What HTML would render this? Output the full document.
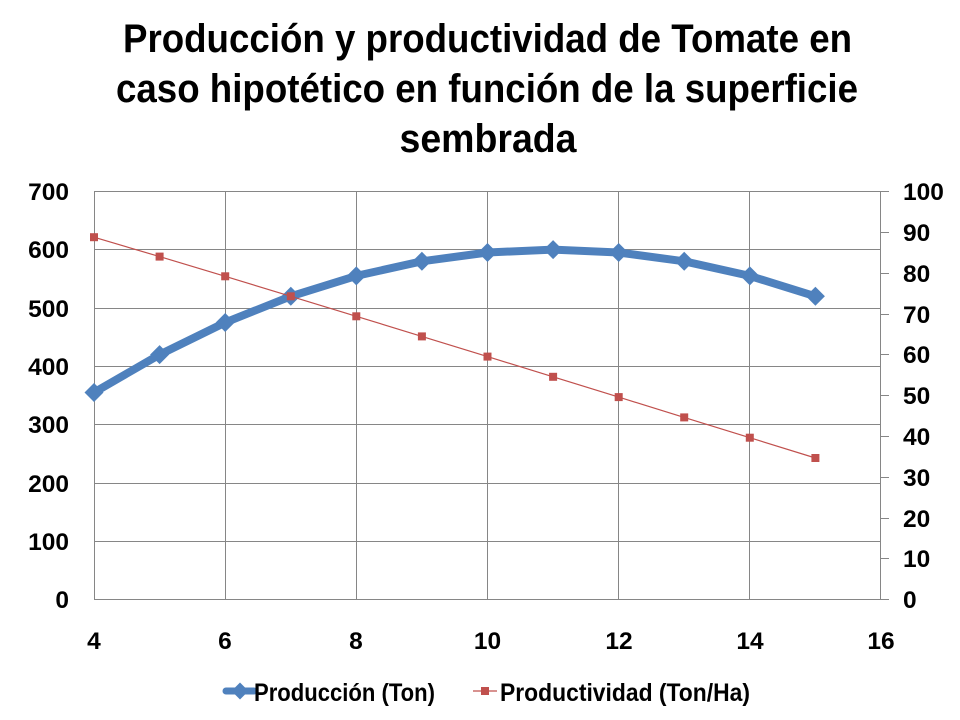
<!DOCTYPE html>
<html>
<head>
<meta charset="utf-8">
<style>
html,body{margin:0;padding:0;background:#fff;}
svg{display:block;}
text{font-family:"Liberation Sans",Arial,sans-serif;font-weight:bold;fill:#000;}
</style>
</head>
<body>
<svg width="960" height="720" viewBox="0 0 960 720" xmlns="http://www.w3.org/2000/svg">
<rect width="960" height="720" fill="#fff"/>
<!-- Title -->
<text x="487.5" y="52" font-size="40" text-anchor="middle" textLength="729" lengthAdjust="spacingAndGlyphs">Producción y productividad de Tomate en</text>
<text x="487" y="102" font-size="40" text-anchor="middle" textLength="742" lengthAdjust="spacingAndGlyphs">caso hipotético en función de la superficie</text>
<text x="488" y="152" font-size="40" text-anchor="middle" textLength="177" lengthAdjust="spacingAndGlyphs">sembrada</text>

<!-- Grid -->
<g stroke="#868686" stroke-width="1" fill="none">
<line x1="94" y1="191.5" x2="881" y2="191.5"/>
<line x1="94" y1="249.5" x2="881" y2="249.5"/>
<line x1="94" y1="308.5" x2="881" y2="308.5"/>
<line x1="94" y1="366.5" x2="881" y2="366.5"/>
<line x1="94" y1="424.5" x2="881" y2="424.5"/>
<line x1="94" y1="483.5" x2="881" y2="483.5"/>
<line x1="94" y1="541.5" x2="881" y2="541.5"/>
<line x1="94" y1="599.5" x2="881" y2="599.5"/>
<line x1="94.5" y1="191" x2="94.5" y2="600"/>
<line x1="225.5" y1="191" x2="225.5" y2="600"/>
<line x1="356.5" y1="191" x2="356.5" y2="600"/>
<line x1="487.5" y1="191" x2="487.5" y2="600"/>
<line x1="618.5" y1="191" x2="618.5" y2="600"/>
<line x1="749.5" y1="191" x2="749.5" y2="600"/>
<line x1="880.5" y1="191" x2="880.5" y2="600"/>
<!-- right axis ticks -->
<line x1="881" y1="191.5" x2="889" y2="191.5"/>
<line x1="881" y1="232.5" x2="889" y2="232.5"/>
<line x1="881" y1="273.5" x2="889" y2="273.5"/>
<line x1="881" y1="314.5" x2="889" y2="314.5"/>
<line x1="881" y1="354.5" x2="889" y2="354.5"/>
<line x1="881" y1="395.5" x2="889" y2="395.5"/>
<line x1="881" y1="436.5" x2="889" y2="436.5"/>
<line x1="881" y1="477.5" x2="889" y2="477.5"/>
<line x1="881" y1="518.5" x2="889" y2="518.5"/>
<line x1="881" y1="558.5" x2="889" y2="558.5"/>
<line x1="881" y1="599.5" x2="889" y2="599.5"/>
</g>

<!-- Left axis labels -->
<g font-size="24.5" text-anchor="end">
<text x="69" y="200">700</text>
<text x="69" y="258">600</text>
<text x="69" y="317">500</text>
<text x="69" y="375">400</text>
<text x="69" y="433">300</text>
<text x="69" y="492">200</text>
<text x="69" y="550">100</text>
<text x="69" y="608">0</text>
</g>
<!-- Right axis labels -->
<g font-size="24.5" text-anchor="start">
<text x="903" y="200">100</text>
<text x="903" y="241">90</text>
<text x="903" y="282">80</text>
<text x="903" y="323">70</text>
<text x="903" y="363">60</text>
<text x="903" y="404">50</text>
<text x="903" y="445">40</text>
<text x="903" y="486">30</text>
<text x="903" y="527">20</text>
<text x="903" y="567">10</text>
<text x="903" y="608">0</text>
</g>
<!-- X axis labels -->
<g font-size="24.5" text-anchor="middle">
<text x="94" y="649">4</text>
<text x="225" y="649">6</text>
<text x="356" y="649">8</text>
<text x="487.5" y="649">10</text>
<text x="619" y="649">12</text>
<text x="750" y="649">14</text>
<text x="881" y="649">16</text>
</g>

<!-- Producción series -->
<polyline fill="none" stroke="#4F81BD" stroke-width="8" stroke-linejoin="round" stroke-linecap="round"
points="94,392.5 159.6,354.6 225.2,322.5 290.8,296.3 356.3,275.9 421.9,261.3 487.5,252.5 553.1,249.6 618.7,252.5 684.2,261.3 749.8,275.9 815.4,296.3"/>
<g fill="#4F81BD">
<polygon points="94,383 103.5,392.5 94,402 84.5,392.5"/>
<polygon points="159.6,345.1 169.1,354.6 159.6,364.1 150.1,354.6"/>
<polygon points="225.2,313 234.7,322.5 225.2,332 215.7,322.5"/>
<polygon points="290.8,286.8 300.3,296.3 290.8,305.8 281.3,296.3"/>
<polygon points="356.3,266.4 365.8,275.9 356.3,285.4 346.8,275.9"/>
<polygon points="421.9,251.8 431.4,261.3 421.9,270.8 412.4,261.3"/>
<polygon points="487.5,243 497,252.5 487.5,262 478,252.5"/>
<polygon points="553.1,240.1 562.6,249.6 553.1,259.1 543.6,249.6"/>
<polygon points="618.7,243 628.2,252.5 618.7,262 609.2,252.5"/>
<polygon points="684.2,251.8 693.7,261.3 684.2,270.8 674.7,261.3"/>
<polygon points="749.8,266.4 759.3,275.9 749.8,285.4 740.3,275.9"/>
<polygon points="815.4,286.8 824.9,296.3 815.4,305.8 805.9,296.3"/>
</g>

<!-- Productividad series -->
<polyline fill="none" stroke="#C0504D" stroke-width="1.2"
points="94,237.2 159.6,256.6 225.2,276.3 290.8,296.3 356.3,316.3 421.9,336.4 487.5,356.6 553.1,376.8 618.7,397.1 684.2,417.4 749.8,437.7 815.4,458"/>
<g fill="#C0504D">
<rect x="90" y="233.2" width="8" height="8"/>
<rect x="155.6" y="252.6" width="8" height="8"/>
<rect x="221.2" y="272.3" width="8" height="8"/>
<rect x="286.8" y="292.3" width="8" height="8"/>
<rect x="352.3" y="312.3" width="8" height="8"/>
<rect x="417.9" y="332.4" width="8" height="8"/>
<rect x="483.5" y="352.6" width="8" height="8"/>
<rect x="549.1" y="372.8" width="8" height="8"/>
<rect x="614.7" y="393.1" width="8" height="8"/>
<rect x="680.2" y="413.4" width="8" height="8"/>
<rect x="745.8" y="433.7" width="8" height="8"/>
<rect x="811.4" y="454" width="8" height="8"/>
</g>

<!-- Legend -->
<line x1="226" y1="691" x2="254" y2="691" stroke="#4F81BD" stroke-width="7" stroke-linecap="round"/>
<polygon points="240,682.5 248.5,691 240,699.5 231.5,691" fill="#4F81BD"/>
<text x="254" y="701" font-size="25" textLength="181" lengthAdjust="spacingAndGlyphs">Producción (Ton)</text>
<line x1="473" y1="691" x2="497" y2="691" stroke="#C0504D" stroke-width="1.2"/>
<rect x="481" y="687" width="8" height="8" fill="#C0504D"/>
<text x="500" y="701" font-size="25" textLength="250" lengthAdjust="spacingAndGlyphs">Productividad (Ton/Ha)</text>
</svg>
</body>
</html>
